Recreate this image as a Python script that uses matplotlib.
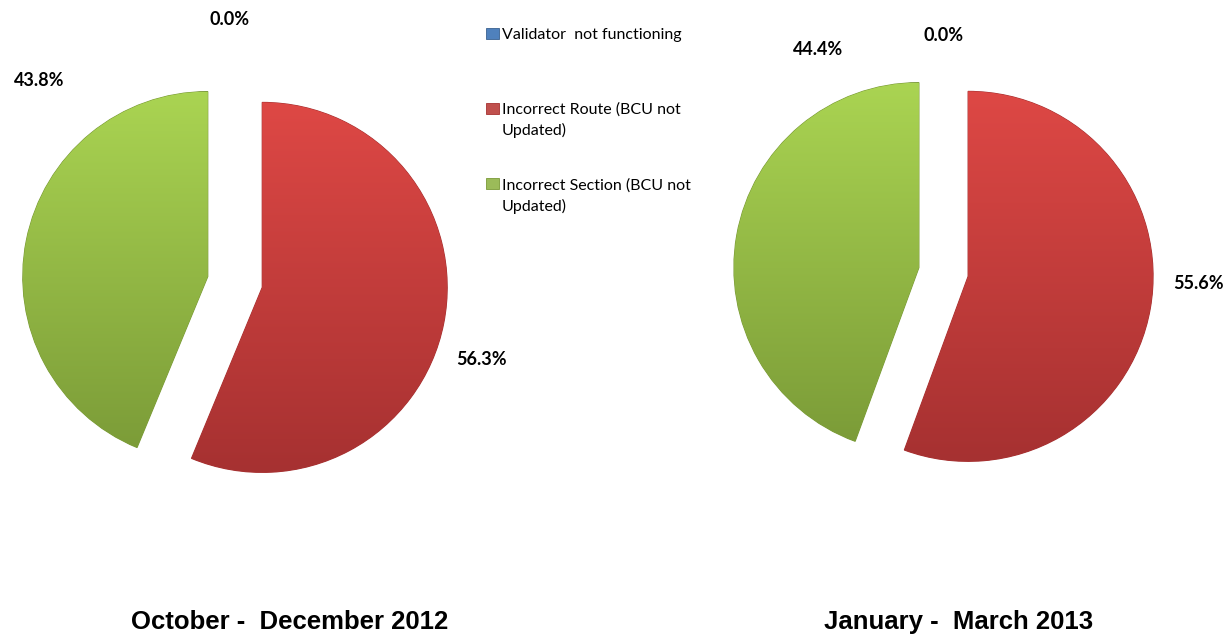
import numpy as np
import matplotlib
matplotlib.use('Agg')
import matplotlib.pyplot as plt
from matplotlib.patches import Patch
from matplotlib.colors import LinearSegmentedColormap

# data
categories = ['Validator  not functioning',
              'Incorrect Route (BCU not\nUpdated)',
              'Incorrect Section (BCU not\nUpdated)']
periods = ['October -  December 2012', 'January -  March 2013']
shares_q4 = [0.0, 56.3, 43.8]
shares_q1 = [0.0, 55.6, 44.4]

colors = ['#4f81bd', '#c0504d', '#9bbb59']
grad_top = ['#5b93d3', '#de4845', '#aad452']
grad_bot = ['#3a6190', '#a63131', '#7a9a37']

W, H = 1228, 636
fig = plt.figure(figsize=(W / 100, H / 100), dpi=100)

R = 185  # pie radius in pixels
half = 1.5  # axes half-width in data units


def add_pie(cx, cy, values, expl, label_pos, title, title_x, title_y):
    size = 2 * half * R
    ax = fig.add_axes([(cx - size / 2) / W, 1 - (cy + size / 2) / H, size / W, size / H])
    ax.axis('off')
    wedges, _ = ax.pie(values, colors=colors, startangle=90, counterclock=False,
                       explode=[expl] * len(values), radius=1,
                       wedgeprops=dict(linewidth=0.8))
    for i, w in enumerate(wedges):
        w.set_edgecolor(grad_bot[i])
        if values[i] == 0:
            w.set_visible(False)
            continue
        cmap = LinearSegmentedColormap.from_list('g', [grad_bot[i], grad_top[i]])
        grad = np.linspace(0, 1, 256).reshape(-1, 1)
        cx0, cy0 = w.center
        im = ax.imshow(grad, cmap=cmap, origin='lower', aspect='auto',
                       extent=[cx0 - 1, cx0 + 1, cy0 - 1, cy0 + 1], zorder=w.get_zorder() + 0.1)
        im.set_clip_path(w)
    ax.set_xlim(-half, half)
    ax.set_ylim(-half, half)
    for v, (lx, ly) in zip(values, label_pos):
        ax.text(lx, ly, '%.1f%%' % v, ha='center', va='center', fontsize=13,
                fontweight='bold', family='Lato', color='black')
    fig.text(title_x / W, 1 - title_y / H, title, ha='center', va='baseline', fontsize=18.5,
             fontweight='bold', family='Liberation Sans')


add_pie(235, 282, shares_q4, 0.15,
        [(-0.03, 1.42), (1.33, -0.42), (-1.06, 1.09)], periods[0], 290, 629)
add_pie(943.5, 272, shares_q1, 0.135,
        [(0.0, 1.28), (1.38, -0.06), (-0.68, 1.20)], periods[1], 959, 629)

# legend: first line of each label in the legend, continuation lines as text below
first_lines = [c.split('\n')[0] for c in categories]
handles = [Patch(facecolor=c, edgecolor=e, linewidth=0.6) for c, e in zip(colors, grad_bot)]
fig.legend(handles, first_lines, loc='upper left', bbox_to_anchor=(486 / W, 1 - 28 / H),
           frameon=False, prop={'family': 'Lato', 'size': 11.5},
           handlelength=0.8, handleheight=0.7, handletextpad=0.2, labelspacing=3.8,
           borderpad=0, borderaxespad=0)
for c, y in zip(categories[1:], [130, 206]):
    fig.text(502 / W, 1 - y / H, c.split('\n')[1], ha='left', va='center',
             family='Lato', fontsize=11.5)

fig.savefig('out.png', dpi=100)
